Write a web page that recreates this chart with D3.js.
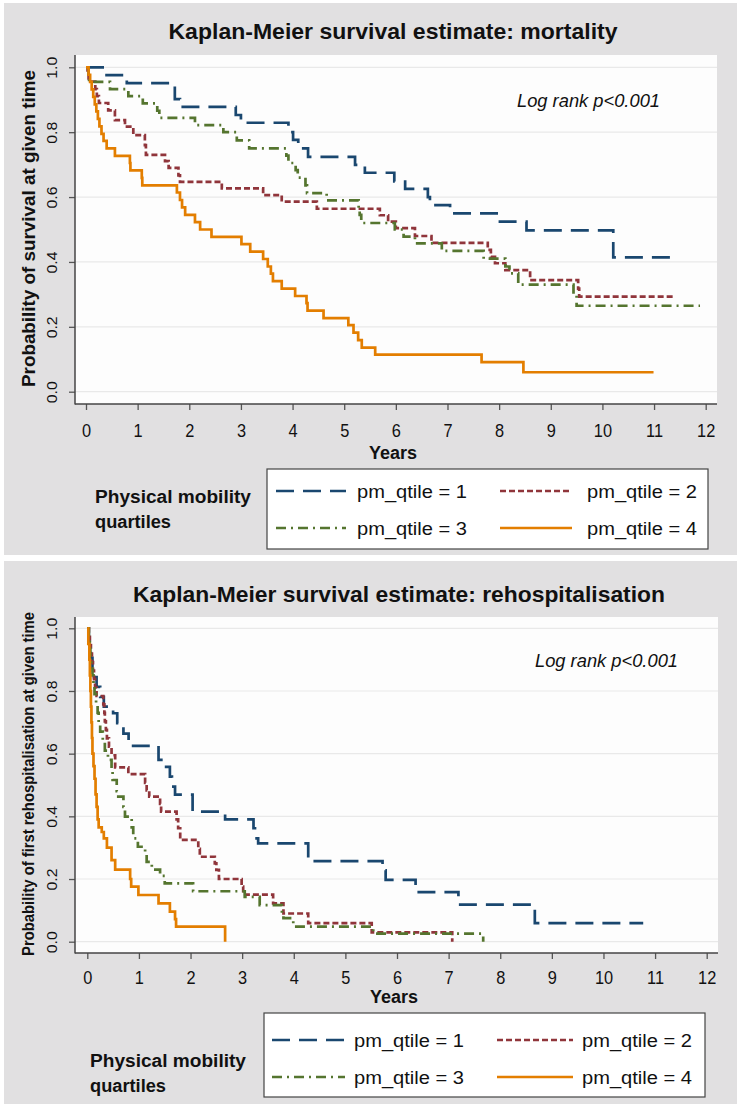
<!DOCTYPE html>
<html><head><meta charset="utf-8">
<script src="https://cdn.jsdelivr.net/npm/d3@7"></script>
<style>
body{margin:0;background:#ffffff;}
svg{display:block;font-family:"Liberation Sans",Arial,Helvetica,sans-serif;}
</style>
</head><body>
<svg id="chart" width="742" height="1108"></svg>
<script>
// ---------- shared labels ----------
const xTicks = [0,1,2,3,4,5,6,7,8,9,10,11,12];
const yTicks = [0,0.2,0.4,0.6,0.8,1.0];
const seriesNames = ["pm_qtile = 1","pm_qtile = 2","pm_qtile = 3","pm_qtile = 4"];
const legendTitle = ["Physical mobility","quartiles"];
const xTitle = "Years";
const pText = "Log rank p<0.001";

// ---------- mortality (event times, survival after event) ----------
const mortT1 = [0.37,0.79,1.72,1.82,2.90,3.00,3.92,4.01,4.11,4.30,5.21,5.40,5.97,6.18,6.62,6.66,7.05,7.98,8.53,10.21];
const mortS1 = [0.976,0.951,0.902,0.878,0.853,0.829,0.800,0.776,0.750,0.724,0.699,0.675,0.648,0.625,0.600,0.575,0.550,0.524,0.497,0.414];
const mortT2 = [0.03,0.05,0.18,0.21,0.25,0.43,0.56,0.755,0.916,1.14,1.16,1.53,1.60,1.79,1.82,2.63,3.43,3.79,4.47,5.69,5.85,6.00,6.37,6.69,7.78,7.84,7.92,8.12,8.60,9.53,9.55];
const mortS2 = [0.978,0.956,0.933,0.911,0.890,0.867,0.837,0.817,0.791,0.760,0.730,0.711,0.690,0.667,0.647,0.627,0.606,0.586,0.564,0.544,0.524,0.504,0.480,0.459,0.437,0.416,0.396,0.375,0.344,0.318,0.293];
const mortT3 = [0.05,0.06,0.465,0.82,1.10,1.38,1.42,2.11,2.66,2.92,3.16,3.88,3.92,4.06,4.10,4.25,4.28,4.66,5.28,5.30,5.33,5.98,6.15,6.37,6.89,7.70,8.12,8.20,8.37,9.44,9.50];
const mortS3 = [0.978,0.955,0.933,0.911,0.889,0.866,0.844,0.822,0.800,0.775,0.750,0.728,0.705,0.683,0.660,0.636,0.612,0.590,0.567,0.545,0.520,0.500,0.478,0.457,0.434,0.410,0.386,0.365,0.330,0.300,0.265];
const mortT4 = [0.05,0.08,0.11,0.14,0.17,0.20,0.23,0.26,0.30,0.34,0.40,0.56,0.85,0.86,1.08,1.09,1.76,1.82,1.86,1.92,2.11,2.21,2.43,3.01,3.18,3.43,3.52,3.58,3.62,3.79,4.05,4.27,4.29,4.60,5.08,5.18,5.27,5.34,5.60,7.66,8.47];
const mortS4 = [0.977,0.955,0.932,0.909,0.886,0.864,0.841,0.818,0.795,0.773,0.750,0.727,0.705,0.682,0.659,0.636,0.614,0.591,0.568,0.545,0.523,0.500,0.477,0.455,0.432,0.409,0.386,0.364,0.341,0.318,0.295,0.273,0.250,0.227,0.205,0.182,0.159,0.136,0.114,0.091,0.060];
const mortEnd = [11.34,11.38,11.89,10.99];

// ---------- rehospitalisation ----------
const rehT1 = [0.03,0.04,0.06,0.10,0.13,0.18,0.25,0.32,0.50,0.58,0.70,0.80,1.38,1.50,1.60,1.64,1.70,2.04,2.67,3.22,3.28,3.31,4.28,5.72,5.78,6.36,7.19,8.67];
const rehS1 = [0.969,0.938,0.906,0.875,0.844,0.813,0.781,0.750,0.729,0.697,0.664,0.625,0.580,0.558,0.527,0.495,0.469,0.415,0.390,0.362,0.330,0.314,0.257,0.228,0.197,0.158,0.118,0.059];
const rehT2 = [0.03,0.05,0.07,0.09,0.11,0.13,0.15,0.18,0.31,0.33,0.34,0.36,0.38,0.42,0.47,0.54,0.795,1.12,1.15,1.20,1.41,1.43,1.73,1.76,1.80,2.15,2.18,2.47,2.50,2.55,2.99,3.02,3.60,3.80,4.28,5.51,7.07];
const rehS2 = [0.973,0.946,0.919,0.892,0.865,0.838,0.811,0.784,0.757,0.730,0.703,0.676,0.649,0.622,0.595,0.556,0.535,0.507,0.483,0.463,0.440,0.415,0.390,0.362,0.325,0.296,0.271,0.250,0.229,0.200,0.176,0.150,0.122,0.090,0.059,0.030,0.000];
const rehT3 = [0.03,0.05,0.06,0.08,0.10,0.12,0.14,0.17,0.20,0.22,0.25,0.30,0.34,0.40,0.47,0.49,0.57,0.60,0.70,0.73,0.86,0.89,0.98,1.12,1.15,1.25,1.41,1.50,2.05,3.05,3.34,3.77,3.80,3.99,5.54,7.67];
const rehS3 = [0.970,0.940,0.910,0.880,0.850,0.820,0.790,0.760,0.730,0.700,0.670,0.640,0.610,0.580,0.550,0.516,0.480,0.463,0.430,0.399,0.365,0.330,0.303,0.280,0.255,0.230,0.210,0.186,0.161,0.143,0.117,0.090,0.075,0.048,0.026,0.000];
const rehT4 = [0.02,0.04,0.05,0.06,0.07,0.08,0.09,0.10,0.12,0.14,0.16,0.18,0.20,0.22,0.28,0.32,0.38,0.47,0.54,0.83,0.85,0.99,1.38,1.60,1.70,1.72,2.67];
const rehS4 = [0.950,0.900,0.850,0.800,0.750,0.700,0.650,0.600,0.560,0.520,0.470,0.430,0.390,0.365,0.350,0.330,0.300,0.260,0.230,0.200,0.176,0.149,0.122,0.096,0.072,0.048,0.000];
const rehEnd = [10.77,7.07,7.67,2.67];

// ---------- styles ----------
const colors = ["#1a476f","#90353b","#55752f","#e37e00"];
const dashes = ["18,9","6,3","10,5,2,5",null];

const svg = d3.select("#chart");

function fit(sel, len){ sel.attr("textLength", len).attr("lengthAdjust","spacingAndGlyphs"); }

function drawPanel(cfg){
  const g = svg.append("g");
  g.append("rect").attr("x",cfg.panel[0]).attr("y",cfg.panel[1])
    .attr("width",cfg.panel[2]-cfg.panel[0]).attr("height",cfg.panel[3]-cfg.panel[1])
    .attr("fill","#e1e0e1");
  const P = cfg.plot; // [x0,y0,x1,y1]
  g.append("rect").attr("x",P[0]).attr("y",P[1]).attr("width",P[2]-P[0]).attr("height",P[3]-P[1]).attr("fill","#fdfdfd");

  const x = d3.scaleLinear().domain([0,12]).range(cfg.xr);
  const y = d3.scaleLinear().domain([0,1]).range(cfg.yr);

  // grid
  g.append("g").selectAll("line").data(yTicks).join("line")
    .attr("x1",P[0]).attr("x2",P[2]).attr("y1",d=>y(d)).attr("y2",d=>y(d))
    .attr("stroke","#e9e9e9").attr("stroke-width",1.2);

  // curves
  const line = d3.line().x(d=>x(d[0])).y(d=>y(d[1])).curve(d3.curveStepAfter);
  cfg.series.forEach((s,i)=>{
    const pts = [[0,1]].concat(s.t.map((t,j)=>[t,s.s[j]]));
    pts.push([cfg.ends[i], s.s[s.s.length-1]]);
    g.append("path").attr("d",line(pts)).attr("fill","none")
      .attr("stroke",colors[i]).attr("stroke-width",2.7)
      .attr("stroke-dasharray",dashes[i]);
  });

  // axes
  const ax = g.append("g").attr("transform",`translate(0,${P[3]})`)
    .call(d3.axisBottom(x).tickValues(xTicks).tickSize(6).tickFormat(d3.format("d")));
  ax.select(".domain").remove();
  ax.selectAll(".tick line").attr("stroke","#555").attr("stroke-width",1.3);
  ax.selectAll(".tick text").attr("fill","#111").style("font-size","19px")
    .attr("font-family","'Liberation Sans',Arial,sans-serif")
    .attr("y",cfg.xLabOff).attr("dy",null)
    .each(function(){ const w=this.getComputedTextLength(); d3.select(this).attr("textLength",w*0.86).attr("lengthAdjust","spacingAndGlyphs"); });

  const ay = g.append("g").attr("transform",`translate(${P[0]},0)`)
    .call(d3.axisLeft(y).tickValues(yTicks).tickSize(6).tickFormat(d3.format(".1f")));
  ay.select(".domain").remove();
  ay.selectAll(".tick line").attr("stroke","#555").attr("stroke-width",1.3);
  ay.selectAll(".tick text").attr("fill","#111").style("font-size","15px")
    .attr("font-family","'Liberation Sans',Arial,sans-serif")
    .attr("x",0).attr("dy",null).attr("text-anchor","middle")
    .attr("transform","translate(-18.5,0) rotate(-90)")
    .each(function(){ d3.select(this).attr("textLength",22).attr("lengthAdjust","spacingAndGlyphs"); });

  g.append("line").attr("x1",P[0]).attr("x2",P[0]).attr("y1",P[1]).attr("y2",P[3]+0.5).attr("stroke","#444").attr("stroke-width",1.5);
  g.append("line").attr("x1",P[0]).attr("x2",P[2]).attr("y1",P[3]).attr("y2",P[3]).attr("stroke","#444").attr("stroke-width",1.5);

  // title
  g.append("text").attr("x",cfg.title.x).attr("y",cfg.title.y).attr("text-anchor","middle")
    .style("font-size","21.5px").style("font-weight","bold").attr("fill","#111")
    .text(cfg.title.text).call(fit,cfg.title.len);
  // y title
  g.append("text").attr("transform",`translate(${cfg.ytitle.x},${cfg.ytitle.y}) rotate(-90)`)
    .attr("text-anchor","middle").style("font-size",cfg.ytitle.size+"px").style("font-weight","bold").attr("fill","#111")
    .text(cfg.ytitle.text).call(fit,cfg.ytitle.len);
  // x title
  g.append("text").attr("x",cfg.xtitle.x).attr("y",cfg.xtitle.y).attr("text-anchor","middle")
    .style("font-size","17.5px").style("font-weight","bold").attr("fill","#111")
    .text(xTitle).call(fit,48);
  // log rank
  g.append("text").attr("x",cfg.plog[0]).attr("y",cfg.plog[1])
    .style("font-size","18px").style("font-style","italic").attr("fill","#111")
    .text(pText).call(fit,143);

  // legend
  const L = cfg.legend;
  g.append("rect").attr("x",L.box[0]).attr("y",L.box[1]).attr("width",L.box[2]-L.box[0]).attr("height",L.box[3]-L.box[1])
    .attr("fill","#ffffff").attr("stroke","#444").attr("stroke-width",1.2);
  g.append("text").attr("x",L.tx).attr("y",L.ty[0]).style("font-size","18px").style("font-weight","bold").attr("fill","#111")
    .text(legendTitle[0]).call(fit,156);
  g.append("text").attr("x",L.tx).attr("y",L.ty[1]).style("font-size","18px").style("font-weight","bold").attr("fill","#111")
    .text(legendTitle[1]).call(fit,76);
  seriesNames.forEach((nm,i)=>{
    const col = i%2, row = Math.floor(i/2);
    const cy = L.rows[row];
    const sx = L.sample[col];
    g.append("line").attr("x1",sx[0]).attr("x2",sx[1]).attr("y1",cy).attr("y2",cy)
      .attr("stroke",colors[i]).attr("stroke-width",2.7).attr("stroke-dasharray",dashes[i]);
    g.append("text").attr("x",L.text[col]).attr("y",cy+6.5).style("font-size","18px").attr("fill","#111")
      .text(nm).call(fit,110);
  });
}

drawPanel({
  panel:[4,3,737,555], plot:[75,55,717,404], xr:[86,705.7], yr:[391.7,67.3], xLabOff:33,
  series:[{t:mortT1,s:mortS1},{t:mortT2,s:mortS2},{t:mortT3,s:mortS3},{t:mortT4,s:mortS4}],
  ends:mortEnd,
  title:{text:"Kaplan-Meier survival estimate: mortality",x:393,y:38.5,len:449},
  ytitle:{text:"Probability of survival at given time",x:34.6,y:228.5,size:18,len:317},
  xtitle:{x:393,y:459},
  plog:[517,106.5],
  legend:{box:[267,469,708,549],rows:[491,528],sample:[[276,346],[500,572]],text:[357,587],tx:95,ty:[503,528]}
});

drawPanel({
  panel:[4,561,737,1104], plot:[75,617,718,953], xr:[87.3,706.7], yr:[941.7,628.3], xLabOff:31,
  series:[{t:rehT1,s:rehS1},{t:rehT2,s:rehS2},{t:rehT3,s:rehS3},{t:rehT4,s:rehS4}],
  ends:rehEnd,
  title:{text:"Kaplan-Meier survival estimate: rehospitalisation",x:399,y:602.3,len:532},
  ytitle:{text:"Probability of first rehospitalisation at given time",x:34,y:784,size:16.5,len:344},
  xtitle:{x:394,y:1003},
  plog:[535,666.5],
  legend:{box:[264,1013,705,1097],rows:[1040,1077],sample:[[272,345],[497,573]],text:[354,582],tx:90,ty:[1067,1092]}
});
</script>
</body></html>
